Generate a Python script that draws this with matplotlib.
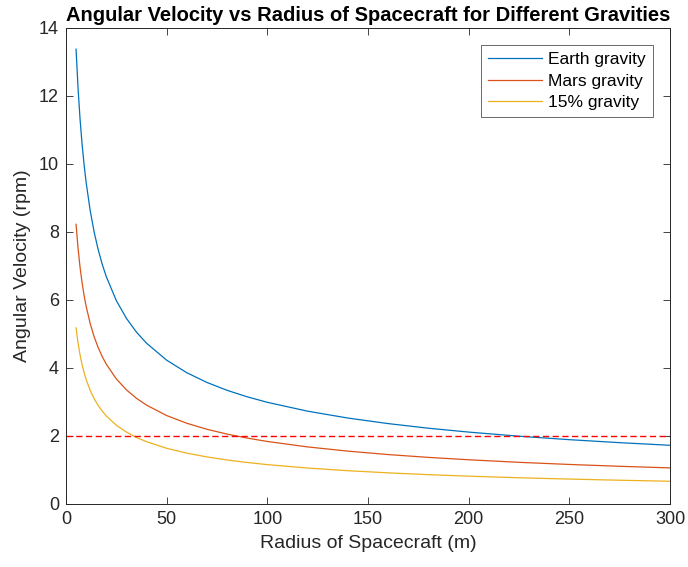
import matplotlib
matplotlib.use("Agg")
import matplotlib.pyplot as plt

plt.rcParams['font.family'] = ['Liberation Sans', 'DejaVu Sans']

radius_m = [5, 6, 7, 8, 9, 10, 12, 14, 16, 18, 20, 25, 30, 35, 40, 50, 60, 70, 80, 90,
            100, 120, 140, 160, 180, 200, 225, 250, 275, 300]
earth_rpm = [13.376, 12.210, 11.304, 10.575, 9.970, 9.458, 8.634, 7.993, 7.477, 7.050,
             6.688, 5.982, 5.461, 5.055, 4.729, 4.230, 3.861, 3.575, 3.344, 3.153,
             2.991, 2.730, 2.528, 2.365, 2.229, 2.115, 1.994, 1.892, 1.804, 1.727]
mars_rpm = [8.226, 7.509, 6.952, 6.503, 6.131, 5.816, 5.310, 4.916, 4.598, 4.335,
            4.113, 3.679, 3.358, 3.109, 2.908, 2.601, 2.375, 2.198, 2.056, 1.939,
            1.839, 1.679, 1.555, 1.454, 1.371, 1.301, 1.226, 1.163, 1.109, 1.062]
pct15_rpm = [5.180, 4.729, 4.378, 4.096, 3.861, 3.663, 3.344, 3.096, 2.896, 2.730,
             2.590, 2.317, 2.115, 1.958, 1.832, 1.638, 1.495, 1.385, 1.295, 1.221,
             1.158, 1.058, 0.979, 0.916, 0.863, 0.819, 0.772, 0.733, 0.699, 0.669]
series_labels = ["Earth gravity", "Mars gravity", "15% gravity"]
threshold_rpm = 2

colors = ["#0072BD", "#D95319", "#EDB120"]
ink = '#262626'

fig = plt.figure(figsize=(6.88, 5.67), dpi=100)
ax = fig.add_axes([66/688, 1 - 504/567, (670-66)/688, (504-28)/567])

for vals, lab, c in zip([earth_rpm, mars_rpm, pct15_rpm], series_labels, colors):
    ax.plot(radius_m, vals, color=c, lw=0.9, label=lab)
ax.axhline(threshold_rpm, color="#FF0000", ls=(0, (4.5, 2.5)), lw=1.0)

ax.set_xlim(0, 300)
ax.set_ylim(0, 14)
ax.set_xticks(range(0, 301, 50))
ax.set_yticks(range(0, 15, 2))
ax.tick_params(direction='in', length=5, width=0.6, labelsize=13, colors=ink,
               top=True, right=True, pad=5)
for s in ax.spines.values():
    s.set_linewidth(0.7)
    s.set_color(ink)
ax.set_xlabel("Radius of Spacecraft (m)", fontsize=14, color=ink, labelpad=5)
ax.set_ylabel("Angular Velocity (rpm)", fontsize=14, color=ink, labelpad=6)
ax.set_title("Angular Velocity vs Radius of Spacecraft for Different Gravities",
             fontsize=14.5, fontweight='bold', pad=5)
leg = ax.legend(loc='upper right', fontsize=12.5, frameon=True, fancybox=False,
                edgecolor=ink, handlelength=3.1, handletextpad=0.35,
                borderaxespad=1.0, borderpad=0.4, labelspacing=0.35)
leg.get_frame().set_linewidth(0.6)

fig.savefig("out.png", dpi=100)
